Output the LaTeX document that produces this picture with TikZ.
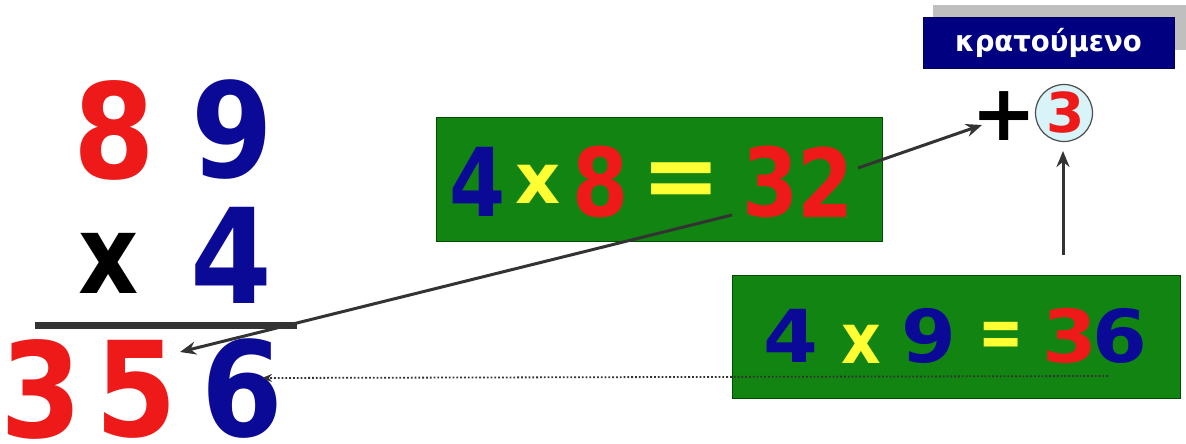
\documentclass[tikz,border=0pt]{standalone}
\usepackage{fontspec}
\usepackage{graphicx}
\setmainfont{DejaVu Sans}
\usetikzlibrary{arrows.meta}
\definecolor{dred}{HTML}{EE1A1A}
\definecolor{dblue}{HTML}{0A0A96}
\definecolor{dyel}{HTML}{FFFF33}
\definecolor{dgreen}{HTML}{128412}
\definecolor{navy}{HTML}{000080}
\definecolor{shade}{HTML}{BFBFBF}
\definecolor{lcyan}{HTML}{D8F4F8}
\definecolor{lgray}{HTML}{333333}
\newcommand{\F}[1]{\fontsize{#1}{#1}\selectfont\bfseries}
\newcommand{\sq}[2]{\scalebox{#1}[1]{#2}}
\begin{document}
\begin{tikzpicture}[x=1pt,y=-1pt,
  ch/.style={inner sep=0pt,outer sep=0pt},
  gbox/.style={draw=green!30!black,line width=0.8pt,fill=dgreen,inner sep=0pt},
  conn/.style={draw=lgray,line width=3pt,-{Stealth[length=16pt,width=13pt]}},
  dotconn/.style={draw=lgray,line width=1.8pt,dotted,-{Stealth[length=10pt,width=8pt]}}]
\useasboundingbox[fill=white] (0,0) rectangle (1186,444);

% top label
\node[fill=shade,minimum width=253pt,minimum height=45pt,inner sep=0pt] (shd) at (1059.5,27.5) {};
\node[fill=navy,draw=navy!70!black,minimum width=251pt,minimum height=51pt,inner sep=0pt,text=white] (lab) at (1048.5,42.5) {\F{29}\sq{0.95}{κρατούμενο}};

% plus and circled carry
\node[ch] (plus) at (1004,116.5) {\F{78}+};
\node[circle,fill=lcyan,draw=gray!60!black,line width=1.2pt,minimum size=57pt,inner sep=0pt] (circ) at (1064,113) {};
\node[ch,text=dred] (c3) at (1066,112) {\F{55}\sq{1.0}{3}};

% left column multiplication
\node[ch,text=dred] (l8) at (114,130) {\F{132}\sq{0.89}{8}};
\node[ch,text=dblue] (l9) at (232,130) {\F{132}\sq{0.89}{9}};
\node[ch,text=black] (lx) at (109,263) {\F{110}\sq{0.85}{x}};
\node[ch,text=dblue] (l4) at (231,255) {\F{132}\sq{0.89}{4}};
\draw[line width=7pt,draw=lgray] (35,325) -- (297,325);
\node[ch,text=dred] (r3) at (41,389) {\F{132}\sq{0.89}{3}};
\node[ch,text=dred] (r5) at (136,389) {\F{132}\sq{0.89}{5}};
\node[ch,text=dblue] (r6) at (242,389) {\F{132}\sq{0.89}{6}};

% box 1
\node[gbox,minimum width=446pt,minimum height=124pt] (box1) at (659,179) {};
\node[ch,text=dblue] (a4) at (478,182) {\F{95}\sq{0.85}{4}};
\node[ch,text=dyel] (ax) at (538,184) {\F{70}\sq{1.0}{x}};
\node[ch,text=dred] (a8) at (601,182) {\F{95}\sq{0.85}{8}};
\node[ch,text=dyel] (aeq) at (681,186) {\F{95}\sq{1.0}{=}};
\node[ch,text=dred] (a3) at (771,182) {\F{95}\sq{0.85}{3}};
\node[ch,text=dred] (a2) at (826,182) {\F{95}\sq{0.85}{2}};

% box 2
\node[gbox,minimum width=448pt,minimum height=123pt] (box2) at (956,336.5) {};
\node[ch,text=dblue] (b4) at (791,336) {\F{73}\sq{1.08}{4}};
\node[ch,text=dyel] (bx) at (861,344) {\F{70}\sq{0.88}{x}};
\node[ch,text=dblue] (b9) at (929,336) {\F{73}\sq{1.08}{9}};
\node[ch,text=dyel] (beq) at (1001,340) {\F{73}\sq{0.74}{=}};
\node[ch,text=dred] (b3) at (1070,336) {\F{73}\sq{1.08}{3}};
\node[ch,text=dblue] (b6) at (1120,336) {\F{73}\sq{1.08}{6}};

% connectors
\coordinate (s1) at (732,215);
\coordinate (t1) at (180,352);
\coordinate (s2) at (858,168);
\coordinate (t2) at (982,125);
\coordinate (vb) at (1063,255);
\coordinate (vt) at (1063,151);
\coordinate (ds) at (1108,376);
\coordinate (dt) at (262,378);
\draw[conn] (s1) -- (t1);
\draw[conn] (s2) -- (t2);
\draw[conn] (vb) -- (vt);
\draw[dotconn] (ds) -- (dt);
\end{tikzpicture}
\end{document}
